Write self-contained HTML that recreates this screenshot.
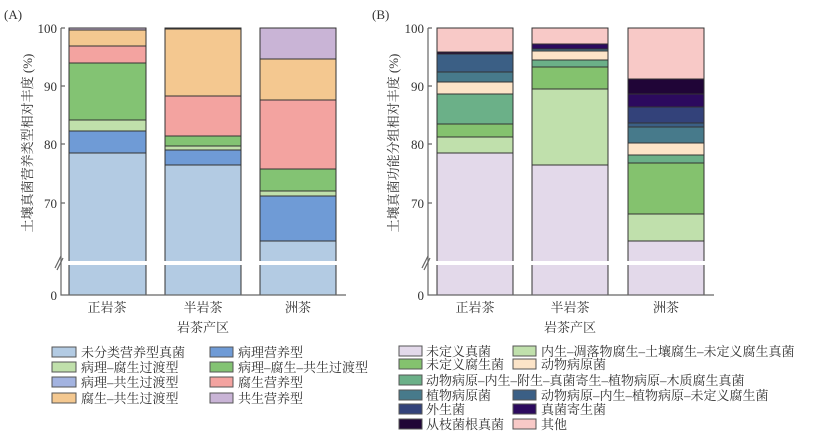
<!DOCTYPE html>
<html><head><meta charset="utf-8"><style>
body{margin:0;background:#fff}
svg text{font-family:"Liberation Serif","Noto Serif CJK SC",serif;fill:#333}
</style></head><body>
<svg width="813" height="441" viewBox="0 0 813 441" xmlns="http://www.w3.org/2000/svg">
<g stroke="#333" stroke-width="1">
<!-- Left chart bars -->
<g>
<rect x="69" y="153" width="77" height="142" fill="#b3cbe3"/>
<rect x="69" y="131" width="77" height="22" fill="#6f9bd6"/>
<rect x="69" y="120" width="77" height="11" fill="#c0e0ab"/>
<rect x="69" y="63" width="77" height="57" fill="#83c373"/>
<rect x="69" y="46" width="77" height="17" fill="#f3a3a0"/>
<rect x="69" y="30" width="77" height="16" fill="#f4c890"/>
<rect x="69" y="28" width="77" height="2" fill="#c9b4d6"/>

<rect x="165" y="165" width="76" height="130" fill="#b3cbe3"/>
<rect x="165" y="150" width="76" height="15" fill="#6f9bd6"/>
<rect x="165" y="146" width="76" height="4" fill="#c0e0ab"/>
<rect x="165" y="136" width="76" height="10" fill="#83c373"/>
<rect x="165" y="96" width="76" height="40" fill="#f3a3a0"/>
<rect x="165" y="29" width="76" height="67" fill="#f4c890"/>
<rect x="165" y="28" width="76" height="1" fill="#c9b4d6"/>

<rect x="260" y="241" width="76" height="54" fill="#b3cbe3"/>
<rect x="260" y="196" width="76" height="45" fill="#6f9bd6"/>
<rect x="260" y="191" width="76" height="5" fill="#c0e0ab"/>
<rect x="260" y="169" width="76" height="22" fill="#83c373"/>
<rect x="260" y="100" width="76" height="69" fill="#f3a3a0"/>
<rect x="260" y="59" width="76" height="41" fill="#f4c890"/>
<rect x="260" y="28" width="76" height="31" fill="#c9b4d6"/>
</g>
<!-- Right chart bars -->
<g>
<rect x="437" y="153" width="76" height="142" fill="#e3d9ea"/>
<rect x="437" y="137" width="76" height="16" fill="#c0e0ac"/>
<rect x="437" y="124" width="76" height="13" fill="#84c26e"/>
<rect x="437" y="94" width="76" height="30" fill="#6bb088"/>
<rect x="437" y="82" width="76" height="12" fill="#fce4c8"/>
<rect x="437" y="72" width="76" height="10" fill="#477a8b"/>
<rect x="437" y="54" width="76" height="18" fill="#3b5f85"/>
<rect x="437" y="52" width="76" height="2" fill="#200537"/>
<rect x="437" y="28" width="76" height="24" fill="#f8c9c7"/>

<rect x="532" y="165" width="76" height="130" fill="#e3d9ea"/>
<rect x="532" y="89" width="76" height="76" fill="#c0e0ac"/>
<rect x="532" y="67" width="76" height="22" fill="#84c26e"/>
<rect x="532" y="60" width="76" height="7" fill="#6bb088"/>
<rect x="532" y="51" width="76" height="9" fill="#fce4c8"/>
<rect x="532" y="49" width="76" height="2" fill="#477a8b"/>
<rect x="532" y="44" width="76" height="5" fill="#2c0a5e"/>
<rect x="532" y="28" width="76" height="16" fill="#f8c9c7"/>

<rect x="628" y="241" width="76" height="54" fill="#e3d9ea"/>
<rect x="628" y="214" width="76" height="27" fill="#c0e0ac"/>
<rect x="628" y="163" width="76" height="51" fill="#84c26e"/>
<rect x="628" y="155" width="76" height="8" fill="#6bb088"/>
<rect x="628" y="143" width="76" height="12" fill="#fce4c8"/>
<rect x="628" y="127" width="76" height="16" fill="#477a8b"/>
<rect x="628" y="123" width="76" height="4" fill="#3b5f85"/>
<rect x="628" y="107" width="76" height="16" fill="#33427a"/>
<rect x="628" y="94" width="76" height="13" fill="#2c0a5e"/>
<rect x="628" y="79" width="76" height="15" fill="#200537"/>
<rect x="628" y="28" width="76" height="51" fill="#f8c9c7"/>
</g>
</g>
<!-- break gaps -->
<rect x="62" y="261" width="290" height="4" fill="#fff"/>
<rect x="430" y="261" width="290" height="4" fill="#fff"/>
<!-- axes -->
<g stroke="#666" stroke-width="1.2" fill="none">
<path d="M61 28 V295 H346"/>
<path d="M61 28 H65 M61 86 H65 M61 144 H65 M61 203 H65"/>
<path d="M55 268 L61 256 M57 270 L63 258"/>
<path d="M428 28 V295 H714"/>
<path d="M428 28 H432 M428 86 H432 M428 144 H432 M428 203 H432"/>
<path d="M422 268 L428 256 M424 270 L430 258"/>
</g>
<g font-size="13" text-anchor="end">
<text x="57" y="33">100</text><text x="57" y="91">90</text><text x="57" y="149">80</text><text x="57" y="208">70</text><text x="57" y="300">0</text>
<text x="424" y="33">100</text><text x="424" y="91">90</text><text x="424" y="149">80</text><text x="424" y="208">70</text><text x="424" y="300">0</text>
</g>
<g font-size="13" text-anchor="middle">
<text x="107" y="312">正岩茶</text><text x="203" y="312">半岩茶</text><text x="298" y="312">洲茶</text>
<text x="203" y="332">岩茶产区</text>
<text x="475" y="312">正岩茶</text><text x="570" y="312">半岩茶</text><text x="666" y="312">洲茶</text>
<text x="570" y="332">岩茶产区</text>
<text transform="translate(32,143) rotate(-90)">土壤真菌营养类型相对丰度 (%)</text>
<text transform="translate(398,143) rotate(-90)">土壤真菌功能分组相对丰度 (%)</text>
</g>
<g font-size="13"><text x="4" y="19">(A)</text><text x="372" y="19">(B)</text></g>
<!-- left legend -->
<g stroke="#555" stroke-width="1">
<rect x="52" y="347" width="24" height="10" fill="#b3cbe3"/>
<rect x="52" y="362" width="24" height="10" fill="#c0e0ab"/>
<rect x="52" y="377" width="24" height="10" fill="#a3b3e0"/>
<rect x="52" y="393" width="24" height="10" fill="#f4c890"/>
<rect x="210" y="347" width="23" height="10" fill="#6f9bd6"/>
<rect x="210" y="362" width="23" height="10" fill="#83c373"/>
<rect x="210" y="377" width="23" height="10" fill="#f3a3a0"/>
<rect x="210" y="393" width="23" height="10" fill="#c9b4d6"/>
</g>
<g font-size="13">
<text x="81" y="357">未分类营养型真菌</text><text x="81" y="372">病理–腐生过渡型</text><text x="81" y="387">病理–共生过渡型</text><text x="81" y="403">腐生–共生过渡型</text>
<text x="238" y="357">病理营养型</text><text x="238" y="372">病理–腐生–共生过渡型</text><text x="238" y="387">腐生营养型</text><text x="238" y="403">共生营养型</text>
</g>
<!-- right legend -->
<g stroke="#555" stroke-width="1">
<rect x="399" y="346" width="23" height="10" fill="#e3d9ea"/>
<rect x="399" y="359" width="23" height="10" fill="#84c26e"/>
<rect x="399" y="375" width="23" height="10" fill="#6bb088"/>
<rect x="399" y="390" width="23" height="10" fill="#477a8b"/>
<rect x="399" y="404" width="23" height="10" fill="#33427a"/>
<rect x="399" y="419" width="23" height="10" fill="#200537"/>
<rect x="513" y="346" width="23" height="10" fill="#c0e0ac"/>
<rect x="513" y="359" width="23" height="10" fill="#fce4c8"/>
<rect x="513" y="390" width="23" height="10" fill="#3b5f85"/>
<rect x="513" y="404" width="23" height="10" fill="#2c0a5e"/>
<rect x="513" y="419" width="23" height="10" fill="#f8c9c7"/>
</g>
<g font-size="13">
<text x="426" y="356">未定义真菌</text><text x="426" y="369">未定义腐生菌</text><text x="426" y="385">动物病原–内生–附生–真菌寄生–植物病原–木质腐生真菌</text><text x="426" y="400">植物病原菌</text><text x="426" y="414">外生菌</text><text x="426" y="429">从枝菌根真菌</text>
<text x="541" y="356">内生–凋落物腐生–土壤腐生–未定义腐生真菌</text><text x="541" y="369">动物病原菌</text><text x="541" y="400">动物病原–内生–植物病原–未定义腐生菌</text><text x="541" y="414">真菌寄生菌</text><text x="541" y="429">其他</text>
</g>
</svg>
</body></html>
